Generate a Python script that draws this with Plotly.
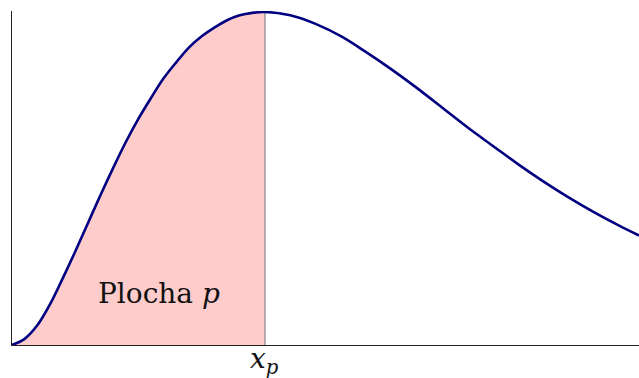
import plotly.graph_objects as go

# Density curve sampled along the horizontal axis (x_p sits at x = 2)
x_vals = [0.0, 0.1, 0.2, 0.3, 0.4, 0.5, 0.6, 0.7, 0.8, 0.9,
          1.0, 1.1, 1.2, 1.3, 1.4, 1.5, 1.6, 1.7, 1.8, 1.9,
          2.0, 2.2, 2.4, 2.6, 2.8, 3.0, 3.2, 3.4, 3.6, 3.8,
          4.0, 4.2, 4.4, 4.6, 4.8, 4.957]
density = [0.0, 0.005, 0.016, 0.033, 0.054, 0.076, 0.099, 0.122, 0.144, 0.165,
           0.184, 0.201, 0.217, 0.230, 0.242, 0.251, 0.258, 0.264, 0.268, 0.270,
           0.2707, 0.268, 0.261, 0.251, 0.238, 0.224, 0.209, 0.193, 0.177, 0.162,
           0.147, 0.133, 0.120, 0.108, 0.097, 0.089]

x_p = 2.0
area_label = "Plocha <i>p</i>"
tick_label = "<i>x</i><sub><i>p</i></sub>"

serif = "DejaVu Serif"

# points up to x_p form the shaded area
shade_x = [x for x in x_vals if x <= x_p]
shade_y = density[:len(shade_x)]
y_at_p = density[x_vals.index(x_p)]

fig = go.Figure()

fig.add_trace(go.Scatter(
    x=shade_x, y=shade_y, mode="lines", line=dict(width=0, shape="spline"),
    fill="tozeroy", fillcolor="#ffcccc", hoverinfo="skip", showlegend=False))

fig.add_trace(go.Scatter(
    x=[x_p, x_p], y=[0, y_at_p], mode="lines",
    line=dict(color="#8c8c8c", width=1.3), showlegend=False))

fig.add_trace(go.Scatter(
    x=x_vals, y=density, mode="lines",
    line=dict(color="#000080", width=2.6, shape="spline"), showlegend=False))

fig.add_annotation(x=1.162, y=0.042, text=area_label, showarrow=False,
                   xanchor="center", yanchor="middle",
                   font=dict(family=serif, size=28, color="#111111"))

fig.add_annotation(x=x_p, xref="x", y=-0.047, yref="paper", text=tick_label,
                   showarrow=False, xanchor="center", yanchor="middle",
                   font=dict(family=serif, size=28, color="#111111"))

fig.update_layout(
    width=639, height=378,
    margin=dict(l=12, r=0, t=11, b=33),
    paper_bgcolor="white", plot_bgcolor="white",
    xaxis=dict(range=[0, max(x_vals)], showgrid=False, zeroline=False,
               showline=True, linecolor="#222222", linewidth=1,
               showticklabels=False, ticks=""),
    yaxis=dict(range=[0, 0.2715], showgrid=False, zeroline=False,
               showline=True, linecolor="#222222", linewidth=1,
               showticklabels=False, ticks=""),
)

fig.write_html("out.html")
